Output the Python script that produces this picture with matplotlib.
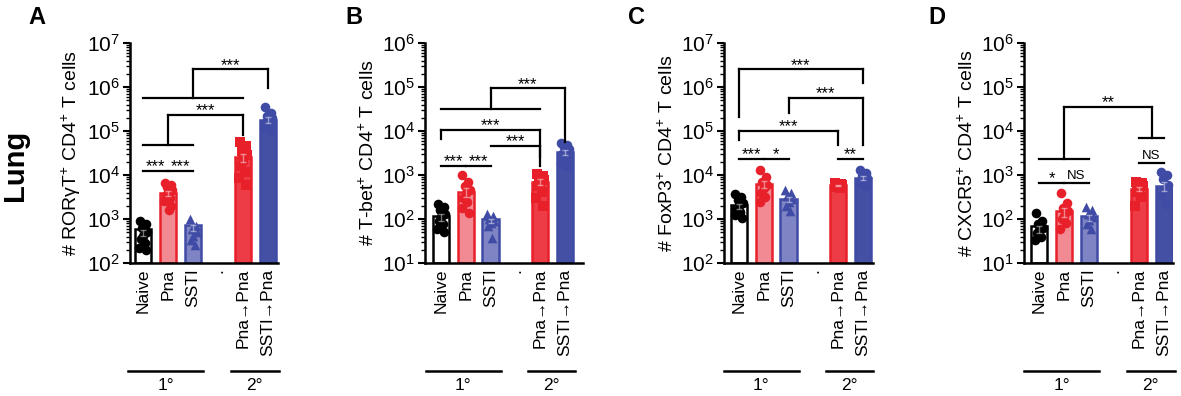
import numpy as np
import matplotlib.pyplot as plt
from matplotlib.ticker import LogLocator, NullFormatter
from matplotlib.transforms import blended_transform_factory

plt.rcParams['font.family'] = ['Liberation Sans', 'DejaVu Sans']
plt.rcParams['mathtext.fontset'] = 'custom'
plt.rcParams['mathtext.rm'] = 'Liberation Sans'
plt.rcParams['mathtext.it'] = 'Liberation Sans:italic'
plt.rcParams['mathtext.bf'] = 'Liberation Sans:bold'

# Группы и подписи по оси X
tick_labels = ['Naive', 'Pna', 'SSTI', '.', 'Pna→Pna', 'SSTI→Pna']
positions = [0, 1, 2, 4, 5]

# Панель A: RORγT+
a_means = [480, 3900, 630, 25000, 180000]
a_points = [
    [900, 750, 620, 500, 420, 350, 280, 220, 200],
    [6500, 6000, 5200, 4600, 4000, 3500, 3000, 2500, 2000, 1600],
    [1000, 700, 600, 500, 420, 330, 260],
    [55000, 45000, 36000, 28000, 22000, 16000, 12000, 8500, 6000],
    [350000, 260000, 220000, 200000, 180000, 160000, 140000, 120000, 100000],
]
a_brackets = [
    (0, 1, 1.25e4, None, None, '***'),
    (1, 2, 1.25e4, None, None, '***'),
    (0, 2, 4.8e4, None, None, ''),
    (1, 4, 2.3e5, 4.8e4, 8.0e4, '***'),
    (0, 4, 5.6e5, None, None, ''),
    (2, 5, 2.5e6, 5.6e5, 9.5e5, '***'),
]

# Панель B: T-bet+
b_means = [110, 410, 90, 700, 3300]
b_points = [
    [220, 190, 160, 130, 110, 90, 75, 60, 50],
    [1000, 700, 550, 450, 380, 300, 240, 180, 140],
    [130, 120, 100, 90, 80, 70, 37],
    [1050, 950, 850, 750, 650, 550, 420, 300, 200],
    [5200, 4800, 4400, 4000, 3600, 3000, 2400, 1800, 1500],
]
b_brackets = [
    (0, 1, 1.6e3, None, None, '***'),
    (1, 2, 1.6e3, None, None, '***'),
    (2, 4, 4.6e3, None, 1.6e3, '***'),
    (0, 4, 1.05e4, 6.6e3, 2.5e3, '***'),
    (0, 4, 3.2e4, None, None, ''),
    (2, 5, 9.3e4, 3.2e4, 5.6e3, '***'),
]

# Панель C: FoxP3+
c_means = [1950, 6200, 2800, 5900, 8500]
c_points = [
    [3700, 3200, 2700, 2300, 2000, 1700, 1450, 1250, 1050],
    [13000, 9000, 7000, 6000, 5000, 4000, 3200, 2400],
    [4500, 4000, 3300, 2800, 2400, 2000, 1500],
    [6500, 6300, 6100, 5900, 5700, 5400, 5100],
    [13000, 11000, 9500, 8500, 7500, 6500, 5500],
]
c_brackets = [
    (0, 1, 2.3e4, None, None, '***'),
    (1, 2, 2.3e4, None, None, '*'),
    (4, 5, 2.3e4, None, None, '**'),
    (0, 4, 1.0e5, 6.3e4, 4.8e4, '***'),
    (2, 5, 5.6e5, 2.5e5, 4.8e4, '***'),
    (0, 5, 2.5e6, 2.1e5, 1.26e6, '***'),
]

# Панель D: CXCR5+
d_means = [59, 145, 105, 480, 560]
d_points = [
    [140, 90, 75, 62, 55, 48, 40, 34],
    [390, 230, 180, 150, 120, 100, 80, 60],
    [185, 160, 130, 110, 95, 75, 58],
    [700, 650, 600, 550, 500, 420, 320, 200],
    [1200, 1000, 800, 600, 450, 330, 220],
]
d_brackets = [
    (0, 1, 660, None, None, '*'),
    (1, 2, 660, None, None, 'NS'),
    (4, 5, 1.86e3, None, None, 'NS'),
    (0, 2, 2.3e3, None, None, ''),
    (4, 5, 6.9e3, None, None, ''),
    (1, 4.5, 3.5e4, 2.3e3, 6.9e3, '**'),
]

ylabels = [r'# RORγT$^{+}$ CD4$^{+}$ T cells',
           r'# T-bet$^{+}$ CD4$^{+}$ T cells',
           r'# FoxP3$^{+}$ CD4$^{+}$ T cells',
           r'# CXCR5$^{+}$ CD4$^{+}$ T cells']
letters = ['A', 'B', 'C', 'D']

red = '#E8202A'
blue = '#3F4BA5'
bar_faces = ['white', '#F28A94', '#7F85C4', '#EE3C46', '#4350A3']
bar_edges = ['black', red, blue, red, blue]
mcolors = ['black', red, blue, red, blue]
markers = ['o', 'o', '^', 's', 'o']
jitter = [-0.14, 0.1, -0.05, 0.15, 0.0, -0.1, 0.06, -0.15, 0.12, 0.03]

# Расположение панелей (пиксели) и пределы
W, H = 1181, 396
axes_px = [(130, 278), (425, 583), (724, 873), (1024, 1173)]
xlims = [(-0.52, 5.4), (-0.65, 5.73), (-0.6, 5.4), (-0.6, 5.36)]
ylims = [(1e2, 1e7), (1e1, 1e6), (1e2, 1e7), (1e1, 1e6)]
letter_x = [28, 345, 628, 928]

panels = [(a_means, a_points, a_brackets), (b_means, b_points, b_brackets),
          (c_means, c_points, c_brackets), (d_means, d_points, d_brackets)]

fig = plt.figure(figsize=(W / 100, H / 100), dpi=100)

for k, (means, points, brackets) in enumerate(panels):
    x0, x1 = axes_px[k]
    ax = fig.add_axes([x0 / W, 1 - 263 / H, (x1 - x0) / W, 220 / H])
    ax.set_yscale('log')
    ax.set_ylim(*ylims[k])
    ax.set_xlim(*xlims[k])
    ax.yaxis.set_major_locator(LogLocator(base=10, numticks=12))
    ax.yaxis.set_minor_locator(LogLocator(base=10, subs=np.arange(2, 10), numticks=12))
    ax.yaxis.set_minor_formatter(NullFormatter())

    for i, pos in enumerate(positions):
        ax.bar(pos, means[i], width=0.66, bottom=ylims[k][0], color=bar_faces[i],
               edgecolor=bar_edges[i], linewidth=1.8, zorder=2)
        pts = points[i]
        xs = [pos + jitter[j % len(jitter)] for j in range(len(pts))]
        ax.scatter(xs, pts, marker=markers[i], s=48, color=mcolors[i],
                   edgecolors=mcolors[i], linewidths=0, zorder=3)
        sem = np.std(pts) / np.sqrt(len(pts))
        ax.errorbar(pos, means[i], yerr=sem, color='white', alpha=0.45,
                    lw=1, capsize=2.5, zorder=4)

    # Линии значимости
    for (xa, xb, y, la, lb, lab) in brackets:
        ax.plot([xa, xb], [y, y], color='black', lw=1.6, zorder=5, clip_on=False)
        if la is not None:
            ax.plot([xa, xa], [la, y], color='black', lw=1.6, zorder=5, clip_on=False)
        if lb is not None:
            ax.plot([xb, xb], [lb, y], color='black', lw=1.6, zorder=5, clip_on=False)
        if lab:
            off = -2.5 if '*' in lab else 1
            fs = 12 if '*' in lab else 9.5
            ax.annotate(lab, ((xa + xb) / 2, y), xytext=(0, off),
                        textcoords='offset points', ha='center', va='bottom',
                        fontsize=fs, zorder=6)

    ax.spines['top'].set_visible(False)
    ax.spines['right'].set_visible(False)
    ax.spines['left'].set_linewidth(1.8)
    ax.spines['bottom'].set_linewidth(1.8)
    ax.tick_params(axis='y', which='major', length=5, width=1.5, labelsize=15, pad=2)
    ax.tick_params(axis='y', which='minor', length=3, width=1.0)
    ax.set_xticks([0, 1, 2, 3, 4, 5])
    ax.set_xticklabels(tick_labels, rotation=90, fontsize=12.5)
    ax.tick_params(axis='x', length=0, pad=4)
    ax.set_ylabel(ylabels[k], fontsize=14, labelpad=3)

    # Подписи групп 1° и 2°
    tr = blended_transform_factory(ax.transData, ax.transAxes)
    ly = (263 - 371) / 220
    ax.plot([-0.6, 2.4], [ly, ly], color='black', lw=1.8, transform=tr, clip_on=False)
    ax.plot([3.5, 5.42], [ly, ly], color='black', lw=1.8, transform=tr, clip_on=False)
    ax.text(0.9, ly - 0.03, '1°', transform=tr, ha='center', va='top', fontsize=12.5)
    ax.text(4.46, ly - 0.03, '2°', transform=tr, ha='center', va='top', fontsize=12.5)

    fig.text(letter_x[k] / W, 1 - 6 / H, letters[k], fontsize=17, fontweight='bold',
             ha='left', va='top')

fig.text(15 / W, 1 - 165 / H, 'Lung', rotation=90, fontsize=21, fontweight='bold',
         ha='center', va='center')

fig.savefig('out.png', dpi=100)
